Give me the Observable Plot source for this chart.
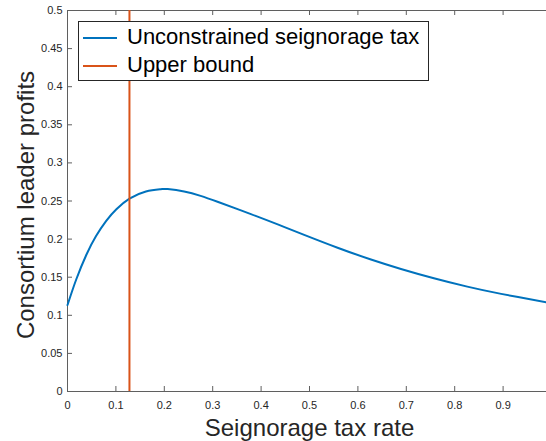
<!DOCTYPE html>
<html>
<head>
<meta charset="utf-8">
<script src="https://cdn.jsdelivr.net/npm/d3@7"></script>
<script src="https://cdn.jsdelivr.net/npm/@observablehq/plot@0.6"></script>
<style>
  body { margin: 0; background: #fff; }
  #wrap { position: relative; width: 546px; height: 441px; overflow: hidden; font-family: "Liberation Sans", Arial, sans-serif; }
  #wrap svg { overflow: hidden; display: block; }
  .legend { position: absolute; left: 78px; top: 21px; width: 351px; height: 60px; box-sizing: border-box; border: 1px solid #262626; background: #fff; }
  .sw { position: absolute; left: 4px; width: 34px; height: 2px; }
  .lt { position: absolute; left: 48px; font-size: 22px; line-height: 22px; color: #000; white-space: nowrap; }
</style>
</head>
<body>
<div id="wrap"></div>
<script>
// ---- data ----
const taxRate = [0, 0.018, 0.039, 0.059, 0.080, 0.101, 0.128, 0.162, 0.193, 0.207, 0.241, 0.275, 0.310, 0.379, 0.437, 0.489, 0.558, 0.627, 0.689, 0.757, 0.826, 0.896, 0.99, 1.0];
const profits = [0.1135, 0.147, 0.1795, 0.204, 0.224, 0.2392, 0.253, 0.2625, 0.2655, 0.2656, 0.2624, 0.2567, 0.249, 0.2328, 0.2186, 0.2056, 0.1887, 0.1732, 0.1608, 0.1486, 0.1376, 0.1281, 0.1170, 0.1159];
const upperBound = [0.128];
const xTicks = [0, 0.1, 0.2, 0.3, 0.4, 0.5, 0.6, 0.7, 0.8, 0.9, 1];
const xTickLabels = [0, 0.1, 0.2, 0.3, 0.4, 0.5, 0.6, 0.7, 0.8, 0.9];
const yTicks = [0, 0.05, 0.1, 0.15, 0.2, 0.25, 0.3, 0.35, 0.4, 0.45, 0.5];
const legendLabels = ["Unconstrained seignorage tax", "Upper bound"];
const legendColors = ["#0072BD", "#D95319"];
const xLabel = "Seignorage tax rate";
const yLabel = "Consortium leader profits";

const axisColor = "#5f5f5f";
const textColor = "#262626";

const chart = Plot.plot({
  width: 546,
  height: 441,
  marginLeft: 67,
  marginRight: 0,
  marginTop: 10,
  marginBottom: 50,
  style: { fontFamily: "Liberation Sans, Arial, sans-serif", background: "white", overflow: "hidden" },
  x: { domain: [0, 1], range: [67, 551] },
  y: { domain: [0, 0.5], range: [391, 10] },
  marks: [
    Plot.axisX(xTickLabels, { anchor: "bottom", tickSize: 0, tickPadding: 10, tickFormat: d => String(d), fontSize: 11, fill: textColor, label: null }),
    Plot.axisY(yTicks, { anchor: "left", tickSize: 0, tickPadding: 5, tickFormat: d => String(d), fontSize: 11, fill: textColor, label: null }),
    // box
    Plot.ruleY([0, 0.5], { stroke: axisColor, strokeWidth: 1 }),
    Plot.ruleX([0, 1], { stroke: axisColor, strokeWidth: 1 }),
    // inward ticks
    Plot.ruleX(xTicks, { x: d => d, y1: 0, y2: 0, insetTop: -5, stroke: axisColor }),
    Plot.ruleX(xTicks, { x: d => d, y1: 0.5, y2: 0.5, insetBottom: -5, stroke: axisColor }),
    Plot.ruleY(yTicks, { y: d => d, x1: 0, x2: 0, insetRight: -5, stroke: axisColor }),
    Plot.ruleY(yTicks, { y: d => d, x1: 1, x2: 1, insetLeft: -5, stroke: axisColor }),
    // data
    Plot.line(profits, { x: taxRate, y: profits, stroke: legendColors[0], strokeWidth: 2, curve: "natural" }),
    Plot.ruleX(upperBound, { x: d => d, stroke: legendColors[1], strokeWidth: 2 }),
    // axis titles
    Plot.text([xLabel], { text: d => d, frameAnchor: "bottom", dx: 2.5, dy: 44, lineAnchor: "bottom", textAnchor: "middle", fontSize: 24, fill: textColor }),
    Plot.text([yLabel], { text: d => d, frameAnchor: "left", rotate: -90, dx: -34, dy: 4, lineAnchor: "bottom", textAnchor: "middle", fontSize: 24, fill: textColor })
  ]
});

const wrap = document.getElementById("wrap");
wrap.appendChild(chart);

// legend overlay
const lg = document.createElement("div");
lg.className = "legend";
legendLabels.forEach((lab, i) => {
  const sw = document.createElement("div");
  sw.className = "sw";
  sw.style.top = (15 + i * 28) + "px";
  sw.style.background = legendColors[i];
  lg.appendChild(sw);
  const t = document.createElement("div");
  t.className = "lt";
  t.style.top = (4 + i * 28) + "px";
  t.textContent = lab;
  lg.appendChild(t);
});
wrap.appendChild(lg);
</script>
</body>
</html>
